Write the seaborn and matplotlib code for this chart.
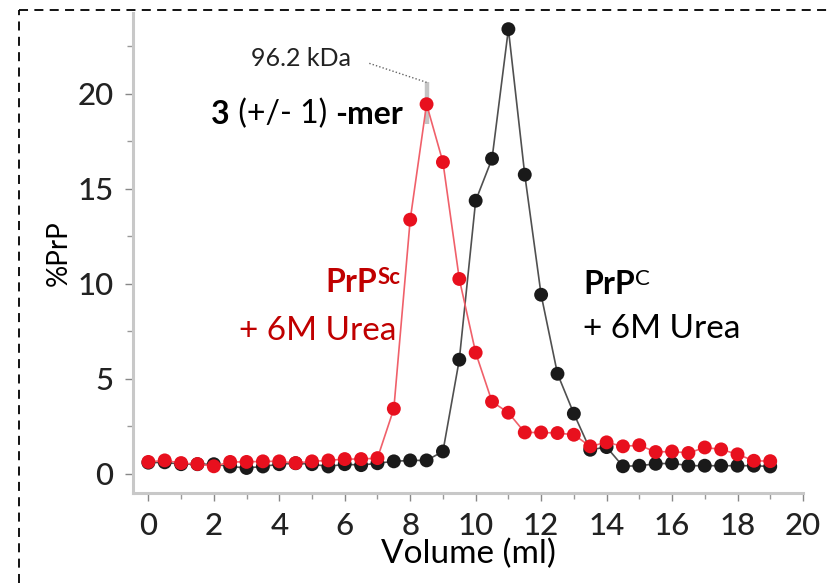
import numpy as np
import pandas as pd
import matplotlib
matplotlib.use('Agg')
import matplotlib.pyplot as plt
from matplotlib.lines import Line2D
from matplotlib.ticker import MultipleLocator
import seaborn as sns

# ── Data ─────────────────────────────────────────────────────────
volume_ml = np.arange(0, 19.01, 0.5)

prp_sc_urea = [0.62, 0.70, 0.56, 0.51, 0.39, 0.62, 0.62, 0.65, 0.65, 0.56,
               0.65, 0.70, 0.77, 0.77, 0.82, 3.42, 13.37, 19.45, 16.4, 10.25,
               6.37, 3.79, 3.21, 2.17, 2.17, 2.14, 2.05, 1.44, 1.65, 1.44,
               1.50, 1.14, 1.17, 1.09, 1.38, 1.28, 1.02, 0.68, 0.66]

prp_c_urea = [0.58, 0.60, 0.50, 0.50, 0.50, 0.38, 0.30, 0.38, 0.50, 0.55,
              0.50, 0.38, 0.50, 0.45, 0.55, 0.65, 0.70, 0.70, 1.17, 6.0,
              14.37, 16.58, 23.4, 15.74, 9.42, 5.26, 3.16, 1.26, 1.40, 0.39,
              0.42, 0.52, 0.55, 0.42, 0.42, 0.42, 0.42, 0.42, 0.38]

x_major = [0, 2, 4, 6, 8, 10, 12, 14, 16, 18, 20]
y_major = [0, 5, 10, 15, 20]

kda_label = '96.2 kDa'
kda_x = 8.5
kda_bar = (18.4, 20.6)

df = pd.DataFrame({'vol': np.concatenate([volume_ml, volume_ml]),
                   'prp': prp_c_urea + prp_sc_urea,
                   'serie': ['C'] * len(volume_ml) + ['Sc'] * len(volume_ml)})

sns.set_style('white')
plt.rcParams['font.family'] = ['Lato', 'DejaVu Sans']

RED_MK = '#e8101e'
RED_LN = '#f0606a'
RED_TXT = '#c00000'
BLK_MK = '#1a1a1a'
BLK_LN = '#505050'

fig = plt.figure(figsize=(8.29, 5.83), dpi=100)
ax = fig.add_axes([0.1604, 0.1549, 0.8082, 0.8228])

# barra gris del marcador de peso molecular
ax.plot([kda_x, kda_x], kda_bar, color='#c4c4c4', lw=3.2, zorder=1,
        solid_capstyle='butt')
ax.plot([6.75, kda_x], [21.6, kda_bar[1]], color='#666666', lw=1.0,
        ls=(0, (1, 1.5)), zorder=1)

# ── Curvas ───────────────────────────────────────────────────────
sub_c = df[df.serie == 'C']
sub_sc = df[df.serie == 'Sc']
sns.lineplot(data=sub_c, x='vol', y='prp', color=BLK_LN, lw=1.2, ax=ax,
             zorder=2)
sns.scatterplot(data=sub_c, x='vol', y='prp', color=BLK_MK, s=100,
                edgecolor='none', ax=ax, zorder=3)
sns.lineplot(data=sub_sc, x='vol', y='prp', color=RED_LN, lw=1.2, ax=ax,
             zorder=4)
sns.scatterplot(data=sub_sc, x='vol', y='prp', color=RED_MK, s=100,
                edgecolor='none', ax=ax, zorder=5)

# ── Ejes ─────────────────────────────────────────────────────────
ax.set_xlim(-0.47, 20.0)
ax.set_ylim(-1.0, 24.25)
ax.set_xticks(x_major)
ax.set_yticks(y_major)
ax.xaxis.set_minor_locator(MultipleLocator(1))
ax.yaxis.set_minor_locator(MultipleLocator(2.5))
ax.tick_params(axis='both', which='major', direction='out', length=6,
               width=1, color='#888888', labelsize=22.5, labelcolor='#222222',
               pad=8, bottom=True, left=True)
ax.tick_params(axis='both', which='minor', direction='out', length=4,
               width=1, color='#999999', bottom=True, left=True)
for lbl in ax.get_xticklabels() + ax.get_yticklabels():
    lbl.set_fontweight('medium')
for side in ['top', 'right']:
    ax.spines[side].set_visible(False)
for side in ['left', 'bottom']:
    ax.spines[side].set_color('#c8c8c8')
    ax.spines[side].set_linewidth(2.2)

ax.set_xlabel('Volume (ml)', fontsize=24, labelpad=-1, color='black')
ax.set_ylabel('%PrP', fontsize=20, labelpad=4, color='black')

# ── Anotaciones ──────────────────────────────────────────────────
ax.text(3.13, 21.85, kda_label, fontsize=18, color='#222222',
        va='center', ha='left')

t1 = ax.text(1.92, 18.4, '3', fontsize=23, weight='bold', va='baseline',
             color='black')
t2 = ax.annotate(' (+/- 1) ', xy=(1, 0), xycoords=t1, fontsize=23,
                 va='bottom', ha='left', color='black')
ax.annotate('-mer', xy=(1, 0), xycoords=(t2, t1), fontsize=23,
            weight='bold', va='bottom', ha='left', color='black')

p1 = ax.text(7.0, 9.55, 'PrP', fontsize=23, weight='bold', color=RED_TXT,
             va='baseline', ha='right')
ax.annotate('Sc', xy=(1, 1), xycoords=p1, fontsize=16, weight='bold',
            color=RED_TXT, va='top', ha='left', xytext=(0, 1),
            textcoords='offset points')
ax.text(7.58, 7.05, '+ 6M Urea', fontsize=24, color=RED_TXT,
        va='baseline', ha='right')

p2 = ax.text(13.28, 9.45, 'PrP', fontsize=23, weight='bold', color='black',
             va='baseline', ha='left')
ax.annotate('C', xy=(1, 1), xycoords=p2, fontsize=16, color='black',
            va='top', ha='left', xytext=(0, 1), textcoords='offset points')
ax.text(13.28, 7.16, '+ 6M Urea', fontsize=24, color='black',
        va='baseline', ha='left')

# marco discontinuo
fig.add_artist(Line2D([18.5 / 829, 18.5 / 829], [0, 1 - 9.5 / 583],
                      color='black', lw=1.3, ls=(0, (5, 3.5))))
fig.add_artist(Line2D([18.5 / 829, 1], [1 - 9.5 / 583, 1 - 9.5 / 583],
                      color='black', lw=1.3, ls=(0, (5, 3.5))))

fig.savefig('out.png', dpi=100)
